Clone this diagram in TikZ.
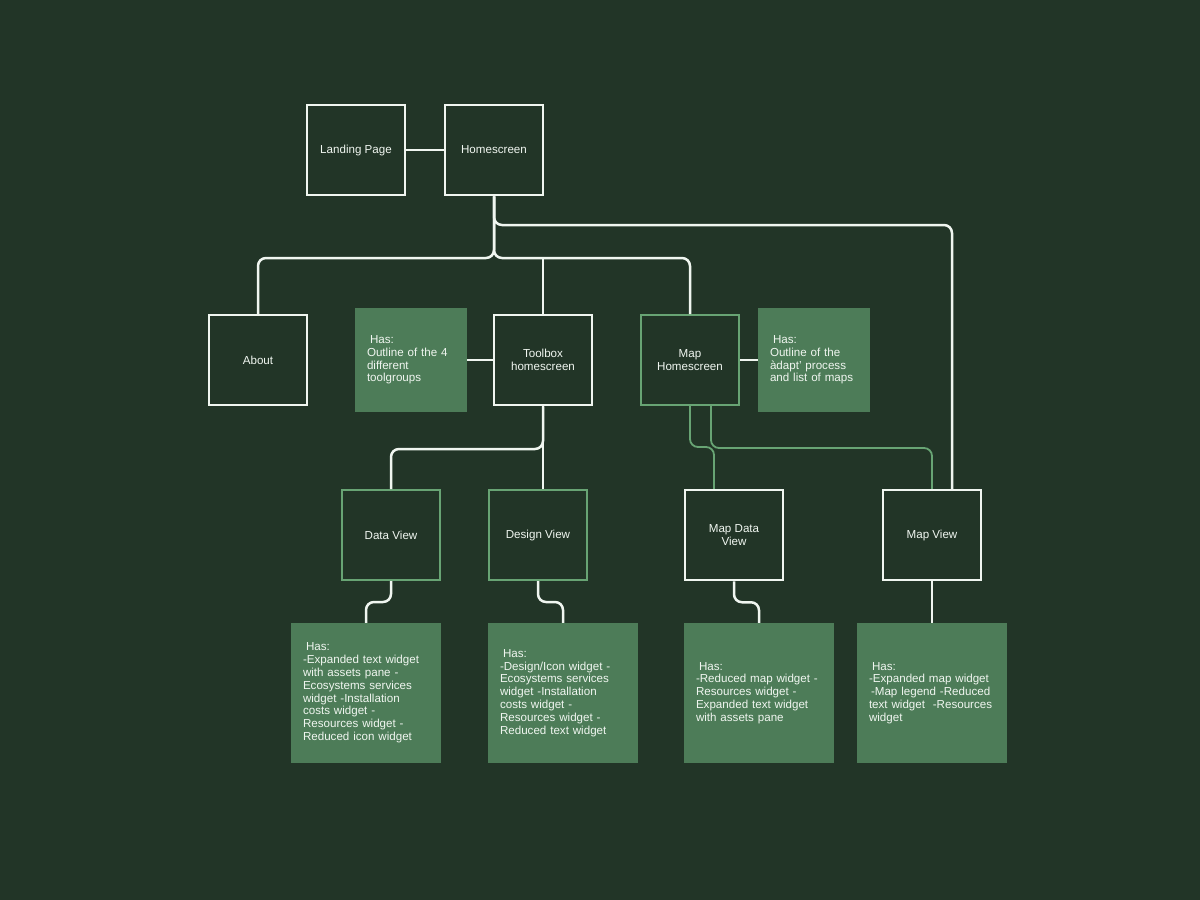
\documentclass[tikz,border=0pt]{standalone}
\usepackage{fontspec}
\setmainfont{Liberation Sans}
\usetikzlibrary{calc}
\definecolor{bg}{RGB}{34,53,39}
\definecolor{fillg}{RGB}{77,124,88}
\definecolor{lineg}{RGB}{104,164,116}
\definecolor{wht}{RGB}{240,246,240}
\begin{document}
\begin{tikzpicture}[x=1pt,y=-1pt,
  every node/.style={font=\fontsize{11.6}{12.8}\selectfont, text=wht},
  wbox/.style={draw=wht, line width=2.5pt, minimum width=98pt, minimum height=90pt, align=center, inner sep=0pt},
  gbox/.style={draw=lineg, line width=2pt, minimum width=98pt, minimum height=90pt, align=center, inner sep=0pt},
  hasbox/.style={fill=fillg, align=left, inner xsep=12pt, inner ysep=0pt},
  smallhas/.style={hasbox, text width=88pt, minimum height=104pt},
  bighas/.style={hasbox, text width=126pt, minimum height=140pt},
  wline/.style={draw=wht, line width=2.5pt, rounded corners=8pt},
  gline/.style={draw=lineg, line width=1.8pt, rounded corners=8pt}]
\fill[bg] (0,0) rectangle (1200,900);
\useasboundingbox (0,0) rectangle (1200,900);

% top row
\node[wbox] (land) at (356,150) {Landing Page};
\node[wbox] (home) at (494,150) {Homescreen};
% middle row
\node[wbox] (about) at (258,360) {About};
\node[smallhas] (has1) at (411,360) {\hspace*{3pt}Has:\\Outline of the 4\\different\\toolgroups};
\node[wbox] (toolbox) at (543,360) {Toolbox\\homescreen};
\node[gbox] (maph) at (690,360) {Map\\Homescreen};
\node[smallhas] (has2) at (814,360) {\hspace*{3pt}Has:\\Outline of the\\àdapt' process\\and list of maps};
% view row
\node[gbox] (dataview) at (391,535) {Data View};
\node[gbox] (designview) at (538,535) {Design View};
\node[wbox] (mapdata) at (734,535) {Map Data\\View};
\node[wbox] (mapview) at (932,535) {Map View};
% bottom row
\node[bighas] (b1) at (366,693) {\hspace*{3pt}Has:\\-Expanded text widget\\with assets pane -\\Ecosystems services\\widget -Installation\\costs widget -\\Resources widget -\\Reduced icon widget};
\node[bighas] (b2) at (563,693) {\hspace*{3pt}Has:\\-Design/Icon widget -\\Ecosystems services\\widget -Installation\\costs widget -\\Resources widget -\\Reduced text widget};
\node[bighas] (b3) at (759,693) {\hspace*{3pt}Has:\\-Reduced map widget -\\Resources widget -\\Expanded text widget\\with assets pane};
\node[bighas] (b4) at (932,693) {\hspace*{3pt}Has:\\-Expanded map widget\\\hspace*{2pt}-Map legend -Reduced\\text widget\ \ -Resources\\widget};

% junction coordinates
\coordinate (j1) at (494,258);
\coordinate (j2) at (494,225);
\coordinate (j3) at (543,449);

% connectors
\draw[wline] (land) -- (home);
\draw[wline] (home.south) -- (j1) -| (about.north);
\draw[wline] (home.south) -- (j1) -| (maph.north);
\draw[wline] (toolbox.north |- j1) -- (toolbox.north);
\draw[wline] (home.south) -- (j2) -| ($(mapview.north)+(20,0)$);
\draw[wline] (has1) -- (toolbox);
\draw[wline] (maph) -- (has2);
\draw[wline] (toolbox.south) -- (j3) -| (dataview.north);
\draw[wline] (toolbox.south) -- (toolbox.south |- designview.north);
\draw[gline] (maph.south) -- ++(0,41) -| ($(mapdata.north)+(-20,0)$);
\draw[gline] ($(maph.south)+(21,0)$) -- ++(0,42) -| (mapview.north);
\draw[wline] (dataview.south) -- ++(0,21) -| (b1.north);
\draw[wline] (designview.south) -- ++(0,21) -| (b2.north);
\draw[wline] (mapdata.south) -- ++(0,21) -| (b3.north);
\draw[wline] (mapview.south) -- (b4.north);
\end{tikzpicture}
\end{document}
